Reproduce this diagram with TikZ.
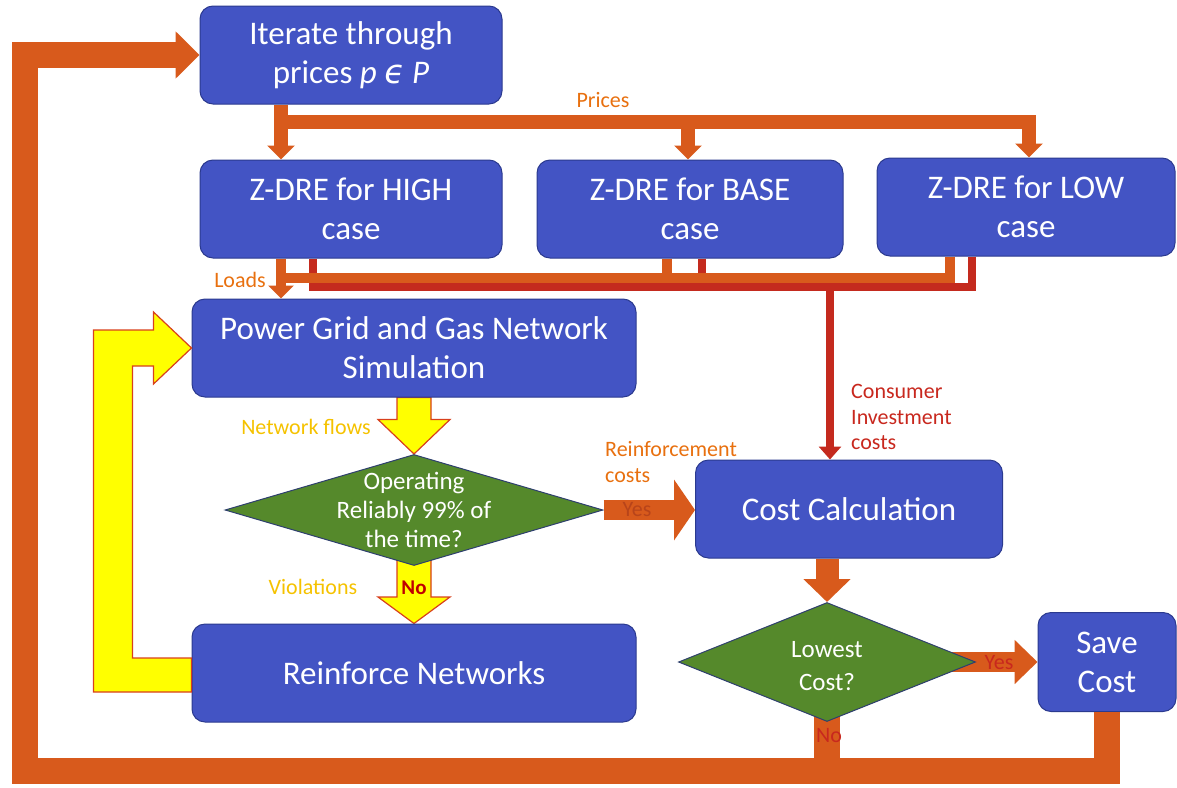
\documentclass[tikz,border=0pt]{standalone}
\usepackage{fontspec}
\setmainfont{Carlito}
\newfontfamily\epsfont{DejaVu Sans}
\usetikzlibrary{arrows.meta,shapes.geometric,calc}
\pgfdeclarelayer{background}
\pgfsetlayers{background,main}
\definecolor{boxblue}{HTML}{4354C4}
\definecolor{boxedge}{HTML}{2B3A8F}
\definecolor{diagreen}{HTML}{55892B}
\definecolor{diaedge}{HTML}{2E3F6E}
\definecolor{orangeline}{HTML}{D85A1C}
\definecolor{redline}{HTML}{C42A1E}
\definecolor{txtorange}{HTML}{E8700F}
\definecolor{txtred}{HTML}{C8281E}
\definecolor{txtyellow}{HTML}{F5C200}
\definecolor{yesdark}{HTML}{B8441A}
\definecolor{nored}{HTML}{C00000}
\definecolor{yellowfill}{HTML}{FFFF00}
\definecolor{yellowedge}{HTML}{D8401C}
\tikzset{
  box/.style={rectangle, rounded corners=13pt, fill=boxblue, draw=boxedge, line width=1pt,
    text=white, font=\fontsize{33}{39}\selectfont, align=center, inner sep=0pt},
  dia/.style={diamond, fill=diagreen, draw=diaedge, line width=1pt, inner sep=0pt},
  dtext/.style={text=white, align=center, inner sep=0pt},
  lbl/.style={font=\fontsize{22}{25.5}\selectfont, inner sep=0pt},
  loopline/.style={draw=orangeline, line width=26pt},
  prline/.style={draw=orangeline, line width=14pt},
  loadline/.style={draw=orangeline, line width=10pt},
  invline/.style={draw=redline, line width=8pt},
  yarrow/.style={fill=yellowfill, draw=yellowedge, line width=1.2pt, line join=miter},
}
\begin{document}
\begin{tikzpicture}[x=1pt,y=-1pt]
\useasboundingbox (0,0) rectangle (1177,787);

% boxes
\node[box, minimum width=302pt, minimum height=98pt] (iter) at (351,55) {Iterate through\\prices \textit{p} {\epsfont\itshape ϵ} \textit{P}};
\node[box, minimum width=302pt, minimum height=98pt] (high) at (351,209) {Z-DRE for HIGH\\case};
\node[box, minimum width=306pt, minimum height=98pt] (base) at (690,209) {Z-DRE for BASE\\case};
\node[box, minimum width=298pt, minimum height=98pt] (low) at (1026,207) {Z-DRE for LOW\\case};
\node[box, minimum width=444pt, minimum height=98pt] (pg) at (414,348) {Power Grid and Gas Network\\Simulation};
\node[box, minimum width=444pt, minimum height=98pt] (rn) at (414,673) {Reinforce Networks};
\node[box, minimum width=307pt, minimum height=98pt] (cc) at (849,509) {Cost Calculation};
\node[box, minimum width=138pt, minimum height=99pt] (save) at (1107,662) {Save\\Cost};
\node[dia, minimum width=378pt, minimum height=111pt] (op) at (414,510) {};
\node[dtext, font=\fontsize{25}{29}\selectfont] (optext) at (op) {Operating\\Reliably 99\% of\\the time?};
\node[dia, minimum width=297pt, minimum height=119pt] (lc) at (827,662) {};
\node[dtext, font=\fontsize{25}{33}\selectfont] (lctext) at ($(lc)+(0,4)$) {Lowest\\Cost?};

% coordinates
\coordinate (pj) at (281,122);
\coordinate (pb) at (688,122);
\coordinate (pl) at (1029,122);
\coordinate (cHo) at (281,278);
\coordinate (cHr) at (313,287);
\coordinate (cBo) at (667,278);
\coordinate (cBr) at (702,287);
\coordinate (cLo) at (950,278);
\coordinate (cLr) at (972,287);
\coordinate (cCr) at (830,287);
\coordinate (bl) at (25,771);

% prices
\draw[prline, -{Triangle[length=14pt,width=27pt]}] (iter.south -| pj) -- (high.north -| pj);
\draw[prline, line join=miter, -{Triangle[length=14pt,width=27pt]}] (pj) -| (low.north -| pl);
\draw[prline, -{Triangle[length=14pt,width=27pt]}] (pb) -- (base.north -| pb);

% consumer investment (red) and loads (orange)
\draw[invline, line join=miter] (low.south -| cLr) -- (cLr) -- (cHr) -- (high.south -| cHr);
\draw[invline] (base.south -| cBr) -- (cBr);
\draw[invline, -{Triangle[length=13pt,width=22pt]}] (cCr) -- (cc.north -| cCr);
\draw[loadline, line join=miter] (low.south -| cLo) -- (cLo) -- (cHo);
\draw[loadline] (base.south -| cBo) -- (cBo);
\draw[loadline, -{Triangle[length=13pt,width=25pt]}] (high.south -| cHo) -- (pg.north -| cHo);

% yellow arrows and hidden starts
\begin{pgfonlayer}{background}
\draw[yarrow] ($(pg.south)+(-17,0)$) -- ($(pg.south)+(-17,22)$) -- ($(pg.south)+(-36,22)$) -- (op.north)
  -- ($(pg.south)+(36,22)$) -- ($(pg.south)+(17,22)$) -- ($(pg.south)+(17,0)$) -- cycle;
\draw[yarrow] ($(op.south)+(-17,-10)$) -- ($(op.south)+(-17,31)$) -- ($(op.south)+(-36,31)$) -- (rn.north)
  -- ($(op.south)+(36,31)$) -- ($(op.south)+(17,31)$) -- ($(op.south)+(17,-10)$) -- cycle;
\draw[loopline, line join=miter] (lc.center) -- (lc.center |- bl);
\draw[orangeline, line width=20pt, -{Triangle[length=23pt,width=43pt]}] (lc.center) -- (save.west |- lc.center);
\end{pgfonlayer}
\draw[yarrow] ($(rn.west)+(0,19)$) -- ($(rn.west)+(-98,19)$) -- ($(pg.west)+(-98,-18)$) -- ($(pg.west)+(-38,-18)$)
  -- ($(pg.west)+(-38,-36)$) -- (pg.west) -- ($(pg.west)+(-38,36)$) -- ($(pg.west)+(-38,18)$)
  -- ($(pg.west)+(-59,18)$) -- ($(rn.west)+(-59,-15)$) -- ($(rn.west)+(0,-15)$) -- cycle;

% orange block arrows
\draw[orangeline, line width=23pt, -{Triangle[length=23pt,width=46pt]}] (cc.south -| lc.north) -- (lc.north);
\draw[orangeline, line width=20pt, -{Triangle[length=21pt,width=60pt]}] (op.east) -- (cc.west |- op.east);

% main loop
\draw[loopline, line join=miter, -{Triangle[length=24pt,width=46pt]}] (save.south) |- (bl) |- (iter.west);

% labels
\node[lbl, text=txtorange] (lprices) at (603,100) {Prices};
\node[lbl, text=txtorange, anchor=east] (lloads) at (266,280) {Loads};
\node[lbl, text=txtyellow] (lflows) at (306,427) {Network flows};
\node[lbl, text=txtyellow] (lviol) at (313,587) {Violations};
\node[lbl, text=txtorange, anchor=west, align=left] (lreinf) at (605,462) {Reinforcement\\costs};
\node[lbl, text=txtred, anchor=west, align=left] (lcons) at (851,417) {Consumer\\Investment\\costs};
\node[lbl, text=yesdark] (lyes1) at (637,510) {Yes};
\node[lbl, text=nored, font=\fontsize{21}{25}\selectfont\bfseries] (lno1) at (414,588) {No};
\node[lbl, text=txtred] (lyes2) at (999,663) {Yes};
\node[lbl, text=txtred] (lno2) at (829,736) {No};
\end{tikzpicture}
\end{document}
